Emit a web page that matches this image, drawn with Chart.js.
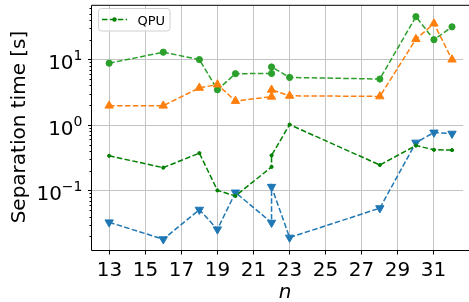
<!DOCTYPE html>
<html><head><meta charset="utf-8">
<script src="https://cdn.jsdelivr.net/npm/chart.js@4"></script>
<style>html,body{margin:0;padding:0;background:#fff;overflow:hidden}canvas{display:block}</style>
</head><body>
<canvas id="c" width="469" height="302"></canvas>
<script>
// ---- data ----
const nValues = [13, 16, 18, 19, 20, 22, 22, 23, 28, 30, 31, 32];
const xTickValues = [13, 15, 17, 19, 21, 23, 25, 27, 29, 31];
const yMajorExponents = [-1, 0, 1];
const circleSeries = [8.9, 13.1, 10.1, 3.5, 6.15, 6.2, 7.8, 5.4, 5.1, 45.6, 20.3, 31.9];
const triUpSeries = [2.0, 2.0, 3.74, 4.2, 2.36, 2.74, 3.49, 2.83, 2.77, 20.7, 35.8, 10.1];
const triDownSeries = [0.0333, 0.0184, 0.0519, 0.026, 0.095, 0.0329, 0.116, 0.0195, 0.0547, 0.548, 0.78, 0.75];
const qpuSeries = [0.344, 0.227, 0.378, 0.102, 0.084, 0.233, 0.349, 1.03, 0.249, 0.494, 0.425, 0.42];
const legendLabel = 'QPU';
const xTitle = 'n';
const yTitle = 'Separation time [s]';

const FONT = '"DejaVu Sans", sans-serif';
const DASH = [5.5, 2.4];
const toPts = ys => nValues.map((n, i) => ({x: n, y: ys[i]}));

function alignPx(p) { return Math.round(p - 0.5) + 0.5; }

const decorPlugin = {
  id: 'decor',
  afterDraw(chart) {
    const {ctx, chartArea: a, scales: {x, y}} = chart;
    ctx.save();
    ctx.strokeStyle = '#000';
    ctx.lineWidth = 1;
    // spines (right spine lies outside the canvas)
    ctx.beginPath();
    ctx.moveTo(chart.width + 1, a.top - 0.5); ctx.lineTo(a.left - 0.5, a.top - 0.5);
    ctx.lineTo(a.left - 0.5, a.bottom - 0.5); ctx.lineTo(chart.width + 1, a.bottom - 0.5);
    ctx.stroke();
    // x ticks and labels
    ctx.fillStyle = '#000';
    ctx.font = '20px ' + FONT;
    ctx.textAlign = 'center';
    ctx.textBaseline = 'alphabetic';
    xTickValues.forEach(v => {
      const px = alignPx(x.getPixelForValue(v));
      ctx.beginPath(); ctx.moveTo(px, a.bottom - 0.5); ctx.lineTo(px, a.bottom + 3.5); ctx.stroke();
      ctx.fillText(String(v), px, 276);
    });
    // y minor ticks
    for (let e = -2; e <= 1; e++) {
      for (let m = 2; m <= 9; m++) {
        const v = m * Math.pow(10, e);
        if (v < y.min || v > y.max) continue;
        const py = alignPx(y.getPixelForValue(v));
        ctx.beginPath(); ctx.moveTo(a.left - 0.5, py); ctx.lineTo(a.left - 2.5, py); ctx.stroke();
      }
    }
    // y major ticks + superscript labels
    yMajorExponents.forEach(e => {
      const py = alignPx(y.getPixelForValue(Math.pow(10, e)));
      ctx.beginPath(); ctx.moveTo(a.left - 0.5, py); ctx.lineTo(a.left - 4, py); ctx.stroke();
      const sup = e < 0 ? '\u2212' + Math.abs(e) : String(e);
      ctx.font = '14px ' + FONT;
      const wSup = ctx.measureText(sup).width;
      ctx.font = '20px ' + FONT;
      const wBase = ctx.measureText('10').width;
      const right = 82.5;
      ctx.textAlign = 'left';
      ctx.fillText('10', right - wSup - wBase, py + 9.5);
      ctx.font = '14px ' + FONT;
      ctx.fillText(sup, right - wSup, py);
    });
    // axis titles
    ctx.font = 'italic 20px ' + FONT;
    ctx.textAlign = 'center';
    ctx.fillText(xTitle, 285, 298);
    ctx.font = '20px ' + FONT;
    ctx.translate(24.5, 127);
    ctx.rotate(-Math.PI / 2);
    ctx.fillText(yTitle, 0, 0);
    ctx.setTransform(1, 0, 0, 1, 0, 0);
    // legend
    const bx = 98.5, by = 8.5, bw = 71.5, bh = 22.5, r = 3;
    ctx.beginPath();
    ctx.moveTo(bx + r, by); ctx.lineTo(bx + bw - r, by); ctx.quadraticCurveTo(bx + bw, by, bx + bw, by + r);
    ctx.lineTo(bx + bw, by + bh - r); ctx.quadraticCurveTo(bx + bw, by + bh, bx + bw - r, by + bh);
    ctx.lineTo(bx + r, by + bh); ctx.quadraticCurveTo(bx, by + bh, bx, by + bh - r);
    ctx.lineTo(bx, by + r); ctx.quadraticCurveTo(bx, by, bx + r, by);
    ctx.closePath();
    ctx.fillStyle = 'rgba(255,255,255,0.8)'; ctx.fill();
    ctx.strokeStyle = '#d0d0d0'; ctx.stroke();
    ctx.strokeStyle = '#008000'; ctx.lineWidth = 1.5; ctx.setLineDash(DASH);
    ctx.beginPath(); ctx.moveTo(102, 19.5); ctx.lineTo(127, 19.5); ctx.stroke();
    ctx.setLineDash([]);
    ctx.fillStyle = '#008000';
    ctx.beginPath(); ctx.arc(114.5, 19.5, 2.2, 0, Math.PI * 2); ctx.fill();
    ctx.fillStyle = '#000';
    ctx.font = '13px ' + FONT;
    ctx.textAlign = 'left';
    ctx.fillText(legendLabel, 137.5, 24.5);
    ctx.restore();
  }
};

const lineDs = (label, ys, color, style, radius, extra) => Object.assign({
  label, data: toPts(ys), borderColor: color, backgroundColor: color,
  pointBackgroundColor: color, pointBorderColor: color, pointBorderWidth: 1,
  pointStyle: style, pointRadius: radius, borderWidth: 1.5, borderDash: DASH,
  tension: 0, fill: false
}, extra || {});

new Chart(document.getElementById('c'), {
  type: 'line',
  data: {
    datasets: [
      lineDs(legendLabel, qpuSeries, '#008000', 'circle', 1.6, {order: 0}),
      lineDs('series ▼', triDownSeries, '#1f77b4', 'triangle', 4.8, {rotation: 180, order: 1}),
      lineDs('series ▲', triUpSeries, '#ff7f0e', 'triangle', 4.8, {order: 2}),
      lineDs('series ●', circleSeries, '#2ca02c', 'circle', 3.1, {order: 3})
    ]
  },
  options: {
    responsive: false,
    animation: false,
    devicePixelRatio: 1,
    layout: {padding: {left: 92, top: 3, right: 0, bottom: 51}},
    plugins: {legend: {display: false}, tooltip: {enabled: false}},
    events: [],
    scales: {
      x: {
        type: 'linear', min: 12.05, max: 32.62,
        afterBuildTicks: s => { s.ticks = xTickValues.map(v => ({value: v})); },
        afterFit: s => { s.height = 0; },
        ticks: {display: false},
        grid: {color: '#c4c4c4', lineWidth: 1, drawTicks: false},
        border: {display: false}
      },
      y: {
        type: 'logarithmic', min: 0.01215, max: 66.8,
        afterBuildTicks: s => { s.ticks = yMajorExponents.map(e => ({value: Math.pow(10, e)})); },
        afterFit: s => { s.width = 0; },
        ticks: {display: false},
        grid: {color: '#c4c4c4', lineWidth: 1, drawTicks: false},
        border: {display: false}
      }
    }
  },
  plugins: [decorPlugin]
});
</script>
</body></html>
